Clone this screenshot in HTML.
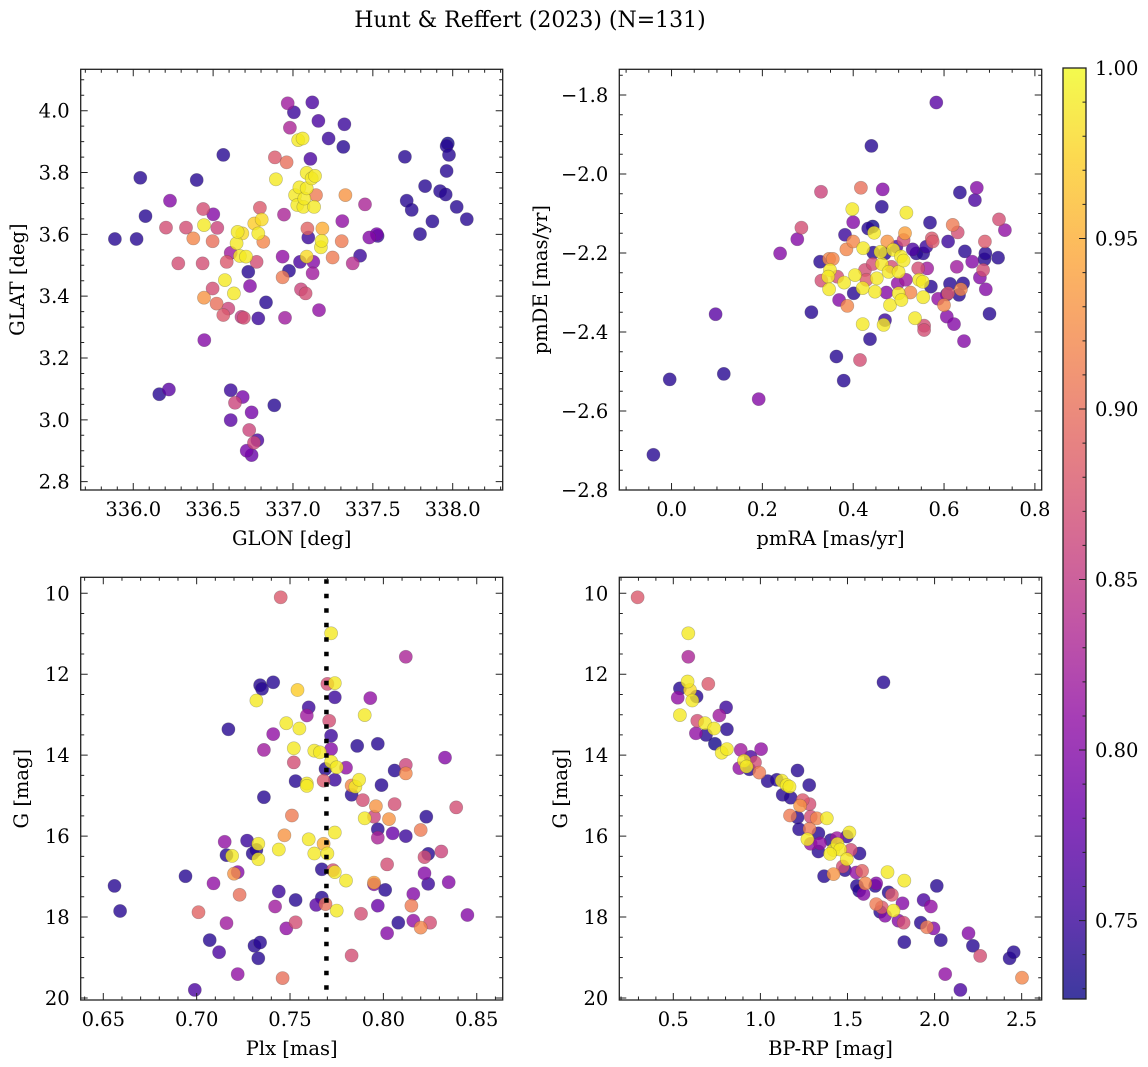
<!DOCTYPE html>
<html><head><meta charset="utf-8"><title>Hunt & Reffert (2023)</title>
<style>
html,body{margin:0;padding:0;background:#fff;}
svg{display:block;font-family:"DejaVu Serif","Liberation Serif",serif;}
</style></head>
<body>
<svg id="fig" width="1148" height="1067" viewBox="0 0 1148 1067" xmlns="http://www.w3.org/2000/svg">
<rect width="1148" height="1067" fill="#fff"/>
<text x="530" y="27" text-anchor="middle" font-size="22">Hunt &amp; Reffert (2023) (N=131)</text>
</svg>
<script>
// ---------- Panel 1: GLON / GLAT ----------
const glon1 = [335.885,336.021,336.044,336.077,336.163,336.223,336.230,336.205,336.282,336.330,336.376,336.397,336.434,336.438,336.443,336.443,336.445,336.497,336.501,336.497,336.526,336.522,336.564,336.574,336.564,336.595,336.585,336.610,336.610,336.610,336.630,336.637,336.647,336.653,336.668,336.685,336.683,336.678,336.692,336.706,336.720,336.731,336.710,336.726,336.741,336.741,336.756,336.777,336.772,336.783,336.783,336.758,336.793,336.804,336.814,336.831,336.883,336.887,336.893,336.935,336.935,336.944,336.950,336.960,336.967,336.975,336.981,337.006,337.013,337.027,337.033,337.040,337.044,337.050,337.060,337.065,337.071,337.079,337.086,337.086,337.090,337.086,337.096,337.109,337.121,337.117,337.132,337.127,337.123,337.138,337.144,337.163,337.159,337.175,337.179,337.184,337.223,337.248,337.305,337.309,337.315,337.322,337.328,337.374,337.420,337.451,337.478,337.524,337.530,337.701,337.712,337.743,337.795,337.827,337.873,337.921,337.956,337.962,337.962,337.969,337.977,338.025,338.088];
const glat1 = [3.585,3.585,3.783,3.659,3.083,3.098,3.709,3.622,3.506,3.622,3.587,3.776,3.506,3.682,3.630,3.395,3.258,3.425,3.665,3.578,3.621,3.376,3.857,3.452,3.339,3.360,3.511,3.540,3.096,2.999,3.409,3.055,3.571,3.608,3.530,3.074,3.603,3.333,3.330,3.528,3.479,3.433,2.900,2.967,3.024,2.886,2.926,2.934,3.511,3.328,3.603,3.635,3.686,3.648,3.576,3.380,3.047,3.849,3.778,3.528,3.461,3.664,3.330,3.833,4.024,3.482,3.945,3.995,3.727,3.695,3.905,3.752,3.511,3.422,3.910,3.689,3.716,3.409,3.749,3.799,3.619,3.528,3.590,3.844,4.027,3.781,3.689,3.511,3.474,3.789,3.727,3.355,3.967,3.558,3.579,3.619,3.910,3.525,3.578,3.643,3.883,3.956,3.727,3.506,3.531,3.697,3.590,3.601,3.595,3.851,3.709,3.679,3.601,3.756,3.642,3.740,3.729,3.805,3.886,3.894,3.857,3.689,3.649];
const prob1 = [.74,.74,.74,.74,.74,.77,.80,.87,.87,.87,.92,.74,.87,.87,.99,.93,.80,.87,.80,.90,.86,.90,.74,.99,.88,.86,.88,.82,.75,.77,.99,.86,.99,.99,.99,.79,.98,.85,.87,.99,.74,.80,.79,.86,.79,.78,.86,.76,.87,.75,.99,.97,.88,.98,.92,.74,.74,.88,.99,.81,.91,.83,.82,.90,.82,.74,.83,.75,.99,.99,.99,.99,.76,.86,.99,.99,.99,.87,.99,.99,.89,.98,.75,.76,.76,.99,.99,.80,.82,.99,.91,.81,.76,.99,.99,.95,.75,.91,.91,.81,.74,.75,.93,.84,.75,.83,.80,.79,.75,.74,.74,.74,.74,.74,.74,.74,.74,.74,.74,.73,.74,.74,.74];

// ---------- Panel 2: pmRA / pmDE ----------
const pmra2 = [-0.040,-0.004,0.097,0.115,0.192,0.239,0.277,0.286,0.308,0.329,0.327,0.330,0.347,0.355,0.349,0.345,0.347,0.365,0.363,0.369,0.380,0.382,0.379,0.387,0.385,0.400,0.398,0.400,0.401,0.404,0.417,0.415,0.421,0.422,0.421,0.426,0.429,0.433,0.440,0.443,0.437,0.444,0.446,0.448,0.443,0.452,0.463,0.465,0.463,0.460,0.470,0.470,0.467,0.475,0.473,0.478,0.481,0.484,0.488,0.495,0.498,0.500,0.500,0.505,0.506,0.511,0.514,0.511,0.517,0.516,0.526,0.531,0.536,0.539,0.543,0.545,0.553,0.554,0.556,0.556,0.554,0.561,0.563,0.569,0.571,0.573,0.575,0.583,0.587,0.600,0.606,0.606,0.609,0.609,0.613,0.619,0.622,0.628,0.630,0.633,0.635,0.637,0.642,0.644,0.646,0.662,0.668,0.672,0.679,0.686,0.689,0.690,0.691,0.692,0.700,0.719,0.721,0.734];
const pmde2 = [-2.711,-2.520,-2.355,-2.506,-2.570,-2.201,-2.165,-2.136,-2.350,-2.045,-2.222,-2.270,-2.215,-2.215,-2.243,-2.260,-2.292,-2.260,-2.462,-2.319,-2.275,-2.154,-2.523,-2.334,-2.191,-2.171,-2.089,-2.122,-2.302,-2.256,-2.035,-2.471,-2.380,-2.188,-2.289,-2.243,-2.268,-2.138,-1.929,-2.133,-2.418,-2.199,-2.149,-2.298,-2.228,-2.264,-2.083,-2.039,-2.228,-2.197,-2.201,-2.370,-2.382,-2.171,-2.300,-2.248,-2.332,-2.235,-2.192,-2.184,-2.277,-2.248,-2.302,-2.209,-2.319,-2.219,-2.150,-2.167,-2.098,-2.268,-2.300,-2.191,-2.365,-2.201,-2.239,-2.268,-2.273,-2.312,-2.384,-2.395,-2.201,-2.184,-2.239,-2.123,-2.285,-2.163,-2.171,-1.819,-2.316,-2.332,-2.361,-2.305,-2.171,-2.302,-2.278,-2.129,-2.380,-2.235,-2.148,-2.306,-2.047,-2.292,-2.277,-2.423,-2.196,-2.222,-2.066,-2.035,-2.262,-2.243,-2.216,-2.171,-2.201,-2.292,-2.354,-2.212,-2.115,-2.142];
const prob2 = [.74,.74,.77,.74,.80,.80,.80,.87,.74,.86,.74,.87,.92,.92,.99,.99,.99,.87,.74,.80,.99,.75,.74,.92,.92,.92,.99,.80,.74,.99,.90,.87,.99,.99,.99,.87,.88,.74,.74,.73,.74,.74,.99,.99,.87,.99,.74,.80,.99,.99,.74,.75,.99,.93,.80,.99,.99,.87,.99,.76,.81,.99,.99,.99,.99,.99,.94,.87,.99,.82,.92,.76,.99,.74,.87,.99,.99,.99,.87,.87,.74,.75,.82,.74,.74,.88,.88,.77,.81,.92,.80,.75,.75,.88,.74,.91,.80,.82,.87,.74,.74,.92,.74,.80,.74,.80,.76,.80,.80,.87,.74,.88,.74,.80,.74,.74,.87,.81];

// ---------- Panel 3: Plx / G ----------
const plx3 = [0.745,0.772,0.812,0.741,0.734,0.735,0.732,0.754,0.770,0.774,0.774,0.793,0.760,0.759,0.790,0.771,0.717,0.748,0.755,0.741,0.772,0.736,0.752,0.763,0.766,0.772,0.786,0.797,0.752,0.772,0.775,0.780,0.833,0.812,0.812,0.806,0.769,0.774,0.768,0.753,0.759,0.759,0.783,0.785,0.787,0.799,0.783,0.736,0.789,0.796,0.806,0.839,0.751,0.795,0.790,0.803,0.823,0.797,0.797,0.774,0.805,0.812,0.820,0.747,0.760,0.715,0.727,0.733,0.716,0.719,0.730,0.732,0.733,0.744,0.763,0.768,0.770,0.824,0.822,0.831,0.802,0.767,0.773,0.774,0.780,0.722,0.720,0.694,0.709,0.795,0.795,0.822,0.824,0.835,0.801,0.816,0.723,0.744,0.753,0.656,0.659,0.701,0.742,0.764,0.767,0.769,0.775,0.797,0.815,0.716,0.753,0.748,0.788,0.802,0.808,0.816,0.820,0.825,0.845,0.707,0.712,0.731,0.734,0.733,0.783,0.722,0.746,0.699];
const gmag3 = [10.10,10.99,11.57,12.20,12.27,12.36,12.65,12.39,12.24,12.22,12.57,12.59,12.82,13.02,13.01,13.15,13.36,13.21,13.34,13.48,13.52,13.87,13.83,13.89,13.93,13.85,13.77,13.72,14.18,14.16,14.30,14.31,14.06,14.24,14.45,14.38,14.34,14.61,14.63,14.64,14.70,14.76,14.75,14.78,14.61,14.74,14.98,15.04,15.11,15.26,15.21,15.29,15.49,15.52,15.56,15.58,15.52,15.83,16.04,15.91,15.93,16.00,15.85,15.98,16.08,16.14,16.11,16.19,16.47,16.49,16.43,16.34,16.57,16.33,16.43,16.19,16.43,16.44,16.52,16.38,16.70,16.82,16.84,16.89,17.10,16.89,16.93,16.99,17.17,17.19,17.15,16.92,17.18,17.14,17.33,17.43,17.45,17.37,17.58,17.23,17.85,17.88,17.74,17.70,17.52,17.68,17.84,17.72,17.72,18.15,18.13,18.28,17.92,18.40,18.14,18.09,18.26,18.14,17.95,18.57,18.87,18.71,18.63,19.02,18.95,19.41,19.51,19.80];
const prob3 = [.88,.99,.83,.74,.74,.74,.99,.97,.87,.99,.75,.81,.75,.82,.99,.87,.74,.99,.99,.81,.75,.82,.99,.99,.99,.80,.74,.74,.87,.99,.99,.81,.80,.86,.92,.74,.74,.75,.88,.74,.99,.99,.92,.99,.99,.74,.74,.74,.87,.93,.87,.87,.91,.86,.99,.93,.74,.74,.83,.99,.78,.75,.91,.93,.99,.81,.75,.99,.74,.99,.74,.74,.99,.99,.99,.95,.99,.74,.87,.86,.87,.74,.87,.99,.99,.80,.93,.74,.81,.80,.94,.80,.75,.80,.74,.80,.90,.75,.74,.74,.74,.89,.82,.77,.74,.90,.99,.78,.91,.82,.87,.81,.87,.80,.74,.81,.92,.87,.80,.74,.76,.74,.74,.74,.87,.81,.90,.76];

// ---------- Panel 4: BP-RP / G ----------
const bprp4 = [0.295,0.586,0.586,1.707,0.701,0.582,0.538,0.596,0.634,0.525,0.609,0.803,0.764,0.538,0.638,0.682,0.734,0.808,0.630,0.688,0.739,1.004,0.887,0.778,0.808,0.944,0.969,0.906,0.920,0.879,0.937,0.994,1.213,1.042,1.094,1.123,1.151,1.167,1.280,1.128,1.174,1.243,1.282,1.228,1.170,1.213,1.289,1.324,1.381,1.222,1.282,1.270,1.289,1.333,1.343,1.333,1.404,1.439,1.419,1.442,1.458,1.496,1.511,1.519,1.569,1.400,1.496,1.473,1.486,1.366,1.420,1.550,1.584,1.730,1.826,1.602,1.554,1.567,1.592,1.665,1.659,1.736,1.755,2.013,1.665,1.697,1.688,1.716,1.764,1.816,1.937,1.979,1.793,1.822,1.921,1.956,1.994,1.826,2.036,2.195,2.220,2.262,2.431,2.454,2.061,2.148,2.502];
const gmag4 = [10.10,10.99,11.57,12.20,12.24,12.18,12.35,12.39,12.55,12.58,12.65,12.82,13.02,13.01,13.15,13.21,13.34,13.36,13.46,13.50,13.72,13.85,13.87,13.94,13.85,14.04,14.18,14.14,14.28,14.32,14.35,14.43,14.38,14.64,14.61,14.63,14.74,14.78,14.74,14.98,15.05,15.11,15.21,15.25,15.49,15.54,15.52,15.56,15.56,15.83,15.82,16.08,16.19,15.93,16.18,16.38,16.10,16.05,16.34,16.19,16.33,16.01,15.91,16.34,16.43,16.44,16.57,16.75,16.84,16.99,16.94,16.90,16.86,16.89,17.10,17.17,17.23,17.35,17.43,17.17,17.23,17.39,17.45,17.23,17.68,17.76,17.87,17.97,17.84,17.66,17.58,17.74,18.09,18.14,18.14,18.25,18.28,18.62,18.57,18.40,18.71,18.96,19.02,18.87,19.41,19.80,19.50];
const prob4 = [.88,.99,.83,.74,.88,.99,.74,.98,.74,.81,.99,.75,.82,.99,.87,.99,.99,.74,.81,.74,.73,.81,.82,.99,.99,.76,.87,.99,.99,.81,.74,.91,.74,.74,.74,.99,.99,.99,.74,.74,.74,.88,.87,.93,.91,.74,.87,.92,.99,.74,.91,.99,.81,.74,.81,.74,.74,.82,.99,.99,.99,.75,.99,.87,.74,.99,.99,.87,.74,.74,.93,.81,.89,.99,.99,.92,.74,.74,.80,.80,.74,.74,.88,.74,.91,.88,.74,.80,.99,.80,.76,.81,.80,.87,.74,.91,.80,.74,.74,.80,.74,.87,.74,.74,.81,.76,.92];

// colour-bar ticks
const cbarTicks = [0.75,0.80,0.85,0.90,0.95,1.00];
const VMIN = 0.727, VMAX = 1.0;

const NS = "http://www.w3.org/2000/svg";
const svg = document.getElementById('fig');
function el(tag, attrs, parent){
  const e = document.createElementNS(NS, tag);
  for (const k in attrs) e.setAttribute(k, attrs[k]);
  (parent||svg).appendChild(e);
  return e;
}
const PL = [[13,8,135],[65,4,157],[106,0,168],[143,13,164],[177,42,144],[204,71,120],[225,100,98],[242,132,75],[252,166,54],[252,206,37],[240,249,33]];
function plasma(t){
  t = Math.max(0, Math.min(1, t));
  const f = t*10, i = Math.min(9, Math.floor(f)), u = f - i;
  const a = PL[i], b = PL[i+1];
  return 'rgb(' + [0,1,2].map(k => Math.round(a[k] + (b[k]-a[k])*u)).join(',') + ')';
}
function cval(p){ return plasma((p - VMIN)/(VMAX - VMIN)); }
function fmtNum(v, d){ const s = Math.abs(v).toFixed(d); return (v < -1e-9 ? '\u2212' : '') + s; }

function ticksBetween(a, b, step){
  const lo = Math.min(a, b), hi = Math.max(a, b);
  const out = [];
  const k0 = Math.ceil(lo/step - 1e-6), k1 = Math.floor(hi/step + 1e-6);
  for (let k = k0; k <= k1; k++) out.push(+(k*step).toFixed(6));
  return out;
}

const TF = 19.5;
function panel(c){
  const g = el('g', {});
  
  
  const sx = v => c.L + (v - c.x0)/(c.x1 - c.x0)*(c.R - c.L);
  const sy = v => c.B - (v - c.y0)/(c.y1 - c.y0)*(c.B - c.T);
  const idx = c.xs.map((_, i) => i).sort((a, b) => c.cs[a] - c.cs[b]);
  const pg = el('g', {}, g);
  
  
  for (const i of idx){
    const pt = el('circle', {cx: sx(c.xs[i]).toFixed(1), cy: sy(c.ys[i]).toFixed(1), r: 6.6, fill: cval(c.cs[i]), 'fill-opacity': 0.8, stroke: '#444', 'stroke-opacity': 0.35, 'stroke-width': 0.6}, pg);
    
    
  }
  if (c.vline !== undefined){
    const ln = el('line', {x1: sx(c.vline), x2: sx(c.vline), y1: c.T + 2, y2: c.B, stroke: '#000', 'stroke-width': 4.5, 'stroke-dasharray': '4.5 10'}, g);
    
    
  }
  const fr = el('rect', {x: c.L, y: c.T, width: c.R - c.L, height: c.B - c.T, fill: 'none', stroke: '#222', 'stroke-width': 1.3}, g);
  
  
  let d = '';
  for (const v of ticksBetween(c.x0, c.x1, c.xmin)){ const x = sx(v); d += `M${x},${c.B}v-3.5M${x},${c.T}v3.5`; }
  for (const v of ticksBetween(c.y0, c.y1, c.ymin)){ const y = sy(v); d += `M${c.L},${y}h3.5M${c.R},${y}h-3.5`; }
  for (const v of ticksBetween(c.x0, c.x1, c.xmaj)){ const x = sx(v); d += `M${x},${c.B}v-7M${x},${c.T}v7`; }
  for (const v of ticksBetween(c.y0, c.y1, c.ymaj)){ const y = sy(v); d += `M${c.L},${y}h7M${c.R},${y}h-7`; }
  el('path', {d: d, stroke: '#222', 'stroke-width': 1, fill: 'none'}, g);
  for (const v of ticksBetween(c.x0, c.x1, c.xmaj)){
    const t = el('text', {x: sx(v), y: c.B + 26, 'text-anchor': 'middle', 'font-size': TF}, g);
    t.textContent = fmtNum(v, c.xd);
    
    
  }
  for (const v of ticksBetween(c.y0, c.y1, c.ymaj)){
    const t = el('text', {x: c.L - 11, y: sy(v) + 7, 'text-anchor': 'end', 'font-size': TF}, g);
    t.textContent = fmtNum(v, c.yd);
    
    
  }
  const xt = el('text', {x: (c.L + c.R)/2, y: c.B + 55, 'text-anchor': 'middle', 'font-size': TF}, g);
  xt.textContent = c.xlabel;
  
  
  const yt = el('text', {x: 0, y: 0, 'text-anchor': 'middle', 'font-size': TF, transform: `translate(${c.ylx},${(c.T + c.B)/2}) rotate(-90)`}, g);
  yt.textContent = c.ylabel;
  
  
}

panel({name:'glon-glat-panel', L:80.7, R:502.7, T:69.3, B:490, x0:335.671, x1:338.313, y0:2.773, y1:4.134,
  xmaj:0.5, xmin:0.1, ymaj:0.2, ymin:0.05, xd:1, yd:1, xs:glon1, ys:glat1, cs:prob1,
  xlabel:'GLON [deg]', ylabel:'GLAT [deg]', ylx:24});
panel({name:'pm-panel', L:619.3, R:1041.7, T:69.3, B:490, x0:-0.115, x1:0.815, y0:-2.8, y1:-1.735,
  xmaj:0.2, xmin:0.05, ymaj:0.2, ymin:0.05, xd:1, yd:1, xs:pmra2, ys:pmde2, cs:prob2,
  xlabel:'pmRA [mas/yr]', ylabel:'pmDE [mas/yr]', ylx:547});
panel({name:'plx-g-panel', L:80.7, R:502.7, T:577.3, B:1000, x0:0.6379, x1:0.8639, y0:20.05, y1:9.605,
  xmaj:0.05, xmin:0.01, ymaj:2, ymin:0.5, xd:2, yd:0, xs:plx3, ys:gmag3, cs:prob3, vline:0.7695,
  xlabel:'Plx [mas]', ylabel:'G [mag]', ylx:28});
panel({name:'cmd-panel', L:619.3, R:1041.7, T:577.3, B:1000, x0:0.190, x1:2.615, y0:20.05, y1:9.605,
  xmaj:0.5, xmin:0.1, ymaj:2, ymin:0.5, xd:1, yd:0, xs:bprp4, ys:gmag4, cs:prob4,
  xlabel:'BP-RP [mag]', ylabel:'G [mag]', ylx:567});

// ---------- colour bar ----------
(function(){
  const L = 1063, R = 1086, T = 68, B = 999;
  const cy = v => B - (v - VMIN)/(VMAX - VMIN)*(B - T);
  const defs = el('defs', {});
  const lg = el('linearGradient', {id: 'cbg', x1: 0, y1: 1, x2: 0, y2: 0}, defs);
  for (let i = 0; i <= 20; i++) el('stop', {offset: i/20, 'stop-color': plasma(i/20), 'stop-opacity': 0.8}, lg);
  const g = el('g', {});
  
  
  el('rect', {x: L, y: T, width: R - L, height: B - T, fill: 'url(#cbg)', stroke: '#222', 'stroke-width': 1.3}, g);
  let d = '';
  for (const v of ticksBetween(VMIN, VMAX, 0.01)) d += `M${R},${cy(v)}h-3.5`;
  for (const v of cbarTicks) d += `M${R},${cy(v)}h-7`;
  el('path', {d: d, stroke: '#222', 'stroke-width': 1}, g);
  for (const v of cbarTicks){
    const t = el('text', {x: R + 9, y: cy(v) + 7, 'font-size': TF}, g);
    t.textContent = v.toFixed(2);
    
    
  }
})();
</script>
</body></html>
